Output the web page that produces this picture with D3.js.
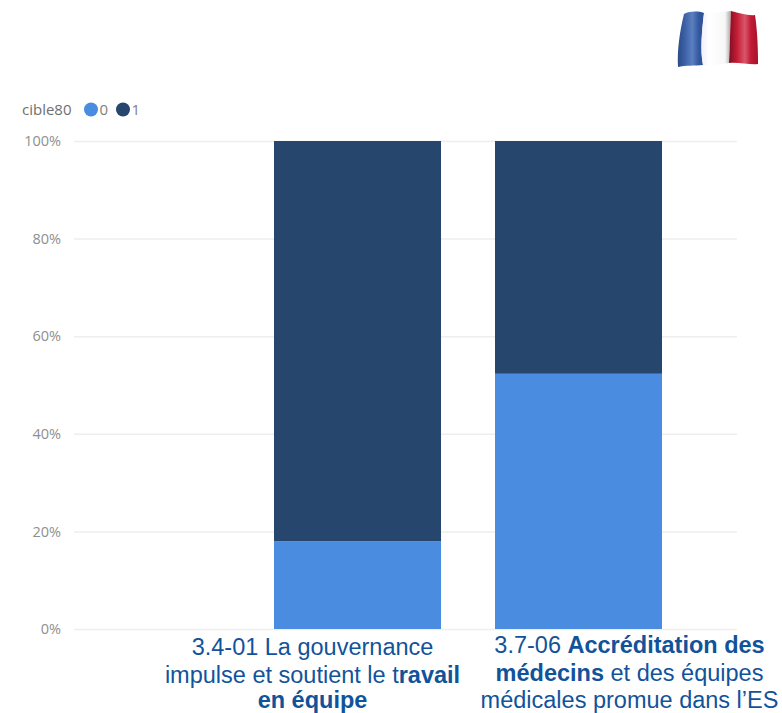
<!DOCTYPE html>
<html lang="fr">
<head>
<meta charset="utf-8">
<script src="https://cdn.jsdelivr.net/npm/d3@7/dist/d3.min.js"></script>
<style>
  html, body { margin: 0; padding: 0; background: #fff; }
  svg { display: block; }
  .axis-label { font-family: "Open Sans", sans-serif; font-size: 14.5px; fill: #8f8f8f; }
  .legend-title { font-family: "Open Sans", sans-serif; font-size: 15px; fill: #6f6f6f; }
  .legend-item { font-family: "Open Sans", sans-serif; font-size: 15px; fill: #808080; }
  .cat { font-family: "Liberation Sans", Arial, sans-serif; font-size: 23.5px; fill: #11539b; text-anchor: middle; }
  .cat .b { font-weight: 700; }
</style>
</head>
<body>
<div id="chart"></div>
<script>
// Share of items per category, by value of cible80
const categories = ["", "3.4-01", "3.7-06"];
const share0 = [0, 18, 52.3];
const share1 = [0, 82, 47.7];
const seriesKeys = ["0", "1"];
const seriesColors = ["#4a8cdf", "#26466d"];
const yTicks = [0, 20, 40, 60, 80, 100];
// Category captions: each line is a list of [text, bold] runs
const captionA = [
  [["3.4-01 La gouvernance", false]],
  [["impulse et soutient le t", false], ["ravail", true]],
  [["en équipe", true]]
];
const captionB = [
  [["3.7-06 ", false], ["Accréditation des", true]],
  [["médecins", true], [" et des équipes", false]],
  [["médicales promue dans l’ES", false]]
];

const width = 782, height = 713;
const svg = d3.select("#chart").append("svg").attr("width", width).attr("height", height);

const y = d3.scaleLinear().domain([0, 100]).range([629, 141]);
const x = d3.scaleBand().domain(categories).range([-1, 716]).padding(0.2443);
const color = d3.scaleOrdinal().domain(seriesKeys).range(seriesColors);

// Gridlines and percentage labels
const yAxis = d3.axisLeft(y).tickValues(yTicks).tickFormat(d => d + "%").tickSize(-663).tickPadding(13);
const axisG = svg.append("g").attr("transform", "translate(74,0)").call(yAxis);
axisG.select(".domain").remove();
axisG.selectAll(".tick line").attr("stroke", "#eeeeee").attr("stroke-width", 1.5);
axisG.selectAll(".tick text").attr("class", "axis-label");

// Stacked bars
const rows = categories.map((c, i) => ({ cat: c, "0": share0[i], "1": share1[i] }));
const stacked = d3.stack().keys(seriesKeys)(rows);
svg.append("g").selectAll("g").data(stacked).join("g")
  .attr("fill", d => color(d.key))
  .selectAll("rect").data(d => d.filter(s => s[1] > s[0]))
  .join("rect")
  .attr("x", d => x(d.data.cat))
  .attr("width", x.bandwidth())
  .attr("y", d => y(d[1]))
  .attr("height", d => y(d[0]) - y(d[1]));

// Legend
const legend = svg.append("g");
legend.append("text").attr("class", "legend-title").attr("x", 22).attr("y", 114.5).text("cible80");
const legendX = d3.scaleOrdinal().domain(seriesKeys).range([91, 123]);
seriesKeys.forEach(k => {
  legend.append("circle").attr("cx", legendX(k)).attr("cy", 109.5).attr("r", 7).attr("fill", color(k));
  legend.append("text").attr("class", "legend-item").attr("x", legendX(k) + 8.5).attr("y", 114.5).text(k);
});

// Category captions below the bars
function caption(lines, cx, baselines) {
  const t = svg.append("text").attr("class", "cat");
  lines.forEach((runs, i) => {
    const line = t.append("tspan").attr("x", cx).attr("y", baselines[i]);
    runs.forEach(([s, bold]) => line.append("tspan").attr("class", bold ? "b" : null).text(s));
  });
}
caption(captionA, 312.5, [655, 683, 708]);
caption(captionB, 629.5, [653, 681, 708]);

// Waving tricolour in the top right corner
const defs = svg.append("defs");
function band(id, stops) {
  const g = defs.append("linearGradient").attr("id", id).attr("x1", 0).attr("x2", 1).attr("y1", 0).attr("y2", 0);
  stops.forEach(([o, c]) => g.append("stop").attr("offset", o).attr("stop-color", c));
}
band("fr-blue", [[0, "#2c4a86"], [0.3, "#3f64ab"], [0.55, "#5c80bf"], [0.8, "#33589f"], [1, "#2e4f92"]]);
band("fr-white", [[0, "#eef1f6"], [0.25, "#ffffff"], [0.8, "#f7f7f7"], [1, "#a9a3a3"]]);
band("fr-red", [[0, "#7d0f22"], [0.25, "#c01a33"], [0.55, "#d9566a"], [0.75, "#bf1c37"], [1, "#a81229"]]);
const flag = svg.append("g").attr("filter", "blur(0.5px)");
flag.append("path").attr("fill", "url(#fr-blue)")
  .attr("d", "M684,14 C690,11 698,11 704,13 C702,30 700,50 703,65 C695,66 685,65 678,67 C677,50 680,30 684,14 Z");
flag.append("path").attr("fill", "url(#fr-white)")
  .attr("d", "M704,13 C713,13 722,12 731,11 C730,28 730,46 729,63 C721,64 712,66 703,65 C700,50 702,30 704,13 Z");
flag.append("path").attr("fill", "url(#fr-red)")
  .attr("d", "M731,11 C740,13 748,16 755,15 C757,28 758,45 758,64 C750,65 738,62 729,63 C730,46 730,28 731,11 Z");
</script>
</body>
</html>
